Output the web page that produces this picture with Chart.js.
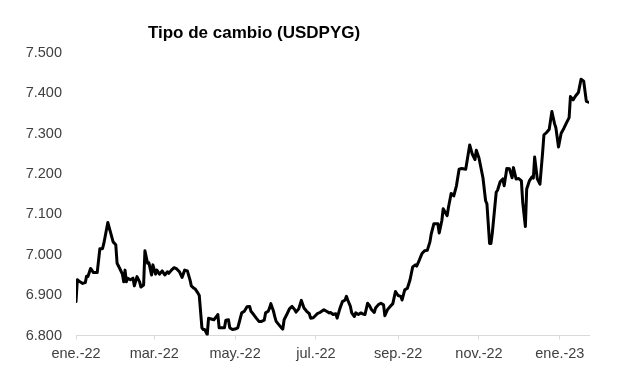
<!DOCTYPE html>
<html>
<head>
<meta charset="utf-8">
<script src="https://cdn.jsdelivr.net/npm/chart.js@4.4.1/dist/chart.umd.min.js"></script>
<style>
html,body{margin:0;padding:0;background:#fff;}
#wrap{width:617px;height:379px;position:relative;}
</style>
</head>
<body>
<div id="wrap"><canvas id="c" width="617" height="379"></canvas></div>
<script>
// Day offsets counted from 3-Jan-2022 (day 0)
const chartTitle = 'Tipo de cambio (USDPYG)';
const days = [0,1,3,5,7,8,9,11,12,13,16,18,20,21,24,26,28,30,31,33,35,36,37,38,39,41,43,44,46,48,49,51,52,54,55,57,58,60,61,63,65,67,69,70,72,74,76,78,80,82,84,86,87,89,90,92,93,95,96,97,99,100,102,104,106,107,108,110,112,113,115,116,118,120,122,123,125,127,129,131,132,134,136,138,140,142,143,145,146,147,149,150,151,153,155,156,157,159,161,163,165,166,168,170,172,174,176,177,179,182,184,187,189,191,192,194,196,197,199,201,203,204,205,207,208,210,211,213,215,216,218,220,221,223,225,226,228,230,232,233,235,237,239,241,243,245,246,248,250,252,254,256,257,259,261,263,265,267,268,270,273,274,276,277,280,281,283,285,287,289,291,294,297,299,301,302,304,307,309,310,312,313,314,317,318,320,322,323,325,327,329,330,332,334,336,337,339,340,342,344,345,346,348,350,352,353,355,357,359,361,362,364,366,368,370,372,373,375,377,379,381,383,385,387];
const usdpyg = [6884,6938,6933,6929,6931,6947,6946,6966,6962,6956,6956,7015,7015,7028,7080,7056,7032,7025,6979,6966,6952,6933,6962,6933,6942,6938,6942,6923,6946,6933,6920,6925,7010,6979,6980,6950,6975,6952,6962,6952,6960,6950,6958,6954,6962,6968,6965,6958,6944,6962,6960,6938,6923,6917,6915,6905,6899,6819,6815,6815,6802,6843,6841,6839,6847,6852,6819,6819,6819,6838,6839,6819,6815,6816,6819,6831,6856,6860,6871,6872,6860,6852,6843,6835,6835,6838,6856,6860,6868,6879,6860,6846,6835,6827,6819,6816,6839,6852,6866,6872,6864,6858,6866,6887,6868,6860,6854,6843,6844,6854,6857,6864,6860,6856,6857,6852,6854,6843,6866,6884,6888,6897,6888,6872,6856,6847,6856,6852,6856,6854,6852,6880,6876,6864,6857,6868,6876,6880,6876,6849,6864,6872,6879,6909,6899,6897,6888,6913,6917,6938,6970,6975,6972,6987,7003,7010,7011,7032,7052,7077,7077,7054,7085,7114,7097,7118,7152,7146,7171,7212,7214,7212,7272,7249,7236,7259,7240,7191,7134,7126,7028,7028,7052,7155,7160,7181,7188,7171,7214,7213,7191,7216,7188,7189,7183,7130,7070,7163,7183,7193,7190,7242,7188,7175,7253,7297,7303,7311,7355,7325,7315,7267,7301,7313,7327,7340,7392,7384,7394,7402,7435,7430,7380,7378];
const tickDays = [0,59,120,181,243,304,365];
const tickLabels = ['ene.-22','mar.-22','may.-22','jul.-22','sep.-22','nov.-22','ene.-23'];
const yMin = 6800, yMax = 7500, yStep = 100;

const points = days.map((d,i)=>({x:d,y:usdpyg[i]}));

const titlePlugin = {
  id:'customTitle',
  afterDraw(chart){
    const ctx = chart.ctx;
    ctx.save();
    ctx.font = 'bold 17px "Liberation Sans", Arial, sans-serif';
    ctx.fillStyle = '#000';
    ctx.textAlign = 'center';
    ctx.textBaseline = 'middle';
    ctx.fillText(chartTitle, 254, 33);
    ctx.restore();
  }
};

new Chart(document.getElementById('c'), {
  type:'line',
  data:{datasets:[{
    data:points,
    borderColor:'#000',
    borderWidth:3,
    pointRadius:0,
    tension:0,
    borderJoinStyle:'round',
    borderCapStyle:'round',
    fill:false
  }]},
  options:{
    responsive:false,
    animation:false,
    layout:{padding:{top:53,right:28,bottom:0,left:0}},
    plugins:{legend:{display:false},tooltip:{enabled:false},title:{display:false}},
    scales:{
      x:{
        type:'linear',
        min:0,
        max:days[days.length-1],
        afterBuildTicks(scale){ scale.ticks = tickDays.map(v=>({value:v})); },
        afterFit(scale){ scale.height = 43.5; },
        ticks:{
          autoSkip:false,
          maxRotation:0,
          padding:6,
          color:'#404040',
          font:{family:'"Liberation Sans", Arial, sans-serif',size:14.5},
          callback(v){ const i = tickDays.indexOf(v); return i>=0 ? tickLabels[i] : ''; }
        },
        grid:{drawOnChartArea:false,drawTicks:true,tickLength:4,color:'#d9d9d9',lineWidth:1},
        border:{display:true,color:'#d9d9d9',width:1}
      },
      y:{
        min:yMin,
        max:yMax,
        afterFit(scale){ scale.width = 76; },
        ticks:{
          stepSize:yStep,
          padding:14,
          color:'#404040',
          font:{family:'"Liberation Sans", Arial, sans-serif',size:14.5},
          callback(v){ return (v/1000).toFixed(3); }
        },
        grid:{display:false,drawTicks:false},
        border:{display:false}
      }
    }
  },
  plugins:[titlePlugin]
});
</script>
</body>
</html>
